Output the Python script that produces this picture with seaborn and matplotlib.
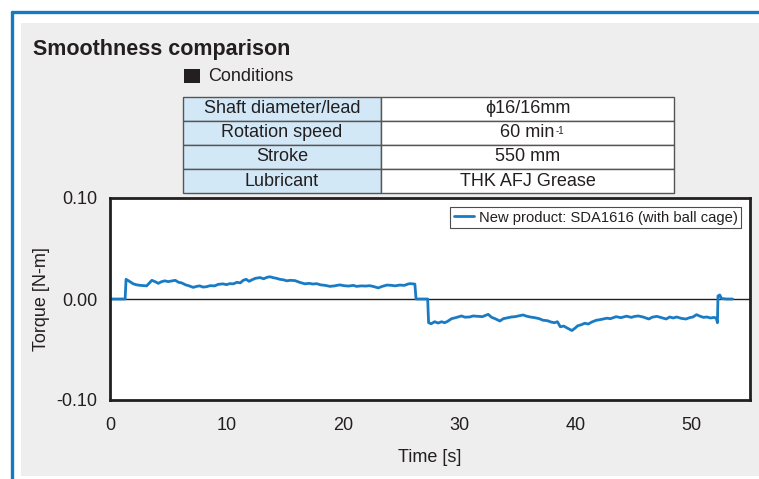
import numpy as np
import pandas as pd
import matplotlib
matplotlib.use("Agg")
import matplotlib.pyplot as plt
from matplotlib.patches import Rectangle
from matplotlib.lines import Line2D
import seaborn as sns

# torque trace
time_s = [
    0.0, 1.30, 1.38, 1.6, 1.8, 2.0, 2.3, 2.6, 2.9, 3.15, 3.4, 3.6, 3.9, 4.15, 4.4,
    4.7, 5.0, 5.3, 5.6, 5.9, 6.15, 6.5, 6.8, 7.15, 7.45, 7.7, 8.0, 8.3, 8.6, 9.0,
    9.3, 9.7, 10.0, 10.3, 10.6, 10.9, 11.2, 11.45, 11.7, 11.95, 12.2, 12.5, 12.9,
    13.2, 13.5, 13.75, 14.0, 14.3, 14.6, 14.9, 15.2, 15.5, 15.9, 16.3, 16.75,
    17.1, 17.45, 17.75, 18.1, 18.5, 18.9, 19.3, 19.75, 20.1, 20.5, 20.9, 21.2,
    21.6, 22.0, 22.3, 22.6, 23.05, 23.4, 23.8, 24.2, 24.5, 24.9, 25.3, 25.6,
    25.8, 26.2, 26.3, 27.3, 27.38, 27.6, 27.9, 28.2, 28.5, 28.75, 29.0, 29.35,
    29.7, 30.0, 30.2, 30.5, 30.9, 31.2, 31.6, 32.0, 32.5, 32.8, 33.1, 33.5, 33.8,
    34.2, 34.5, 34.8, 35.2, 35.5, 35.8, 36.1, 36.5, 36.9, 37.2, 37.6, 37.9, 38.2,
    38.45, 38.7, 39.0, 39.25, 39.5, 39.7, 39.95, 40.2, 40.5, 40.8, 41.1, 41.4,
    41.8, 42.1, 42.4, 42.7, 43.0, 43.5, 43.9, 44.4, 44.8, 45.1, 45.4, 45.8, 46.3,
    46.6, 47.0, 47.4, 47.8, 48.1, 48.4, 48.7, 49.1, 49.5, 49.8, 50.1, 50.4, 50.7,
    51.0, 51.3, 51.6, 51.9, 52.1, 52.2, 52.25, 52.4, 52.55, 53.0, 53.5,
]
torque = [
    0.0, 0.0, 0.0195, 0.018, 0.0165, 0.015, 0.014, 0.0135, 0.0132, 0.013, 0.016,
    0.0185, 0.017, 0.0155, 0.017, 0.018, 0.0172, 0.0178, 0.0185, 0.0165, 0.016,
    0.014, 0.013, 0.0115, 0.0125, 0.013, 0.0118, 0.0122, 0.0132, 0.013, 0.0145,
    0.015, 0.0142, 0.0152, 0.015, 0.0165, 0.016, 0.0185, 0.0195, 0.0175, 0.019,
    0.0205, 0.0212, 0.020, 0.0215, 0.022, 0.0212, 0.0205, 0.0195, 0.019, 0.018,
    0.0185, 0.0182, 0.0165, 0.015, 0.0155, 0.0148, 0.0152, 0.014, 0.0135, 0.0125,
    0.013, 0.014, 0.0132, 0.0128, 0.0135, 0.0125, 0.013, 0.0128, 0.0132, 0.0125,
    0.011, 0.0125, 0.0138, 0.0135, 0.013, 0.0138, 0.0135, 0.0148, 0.0152, 0.0148,
    0.0, 0.0, -0.0235, -0.0245, -0.0225, -0.0238, -0.0225, -0.0235, -0.0222,
    -0.0195, -0.0185, -0.0175, -0.0168, -0.018, -0.0178, -0.0168, -0.0172,
    -0.0175, -0.0152, -0.0182, -0.0195, -0.0218, -0.0195, -0.0185, -0.0178,
    -0.0175, -0.0165, -0.0158, -0.017, -0.0178, -0.0185, -0.0195, -0.021,
    -0.0215, -0.0228, -0.0235, -0.0225, -0.0275, -0.0268, -0.0285, -0.030,
    -0.0312, -0.029, -0.0265, -0.0255, -0.024, -0.0248, -0.0228, -0.021,
    -0.0205, -0.0198, -0.019, -0.0195, -0.0175, -0.0185, -0.017, -0.0182,
    -0.0172, -0.0168, -0.0178, -0.0198, -0.018, -0.0172, -0.0185, -0.0198,
    -0.0178, -0.0188, -0.0178, -0.0192, -0.0198, -0.0185, -0.0178, -0.0155,
    -0.017, -0.0182, -0.0178, -0.0188, -0.0182, -0.019, -0.0235, 0.003, 0.004,
    0.0005, 0.0, 0.0,
]
series_name = "New product: SDA1616 (with ball cage)"

x_ticks = [0, 10, 20, 30, 40, 50]
y_ticks = [-0.10, 0.00, 0.10]
y_tick_labels = ["-0.10", "0.00", "0.10"]

cond_names = ["Shaft diameter/lead", "Rotation speed", "Stroke", "Lubricant"]
cond_values = ["\u03d516/16mm", "60 min", "550 mm", "THK AFJ Grease"]
speed_unit_sup = "-1"

ink = "#231f20"
line_blue = "#1a7bc5"

sns.set_theme(style="white")
plt.rcParams["font.family"] = ["Liberation Sans", "DejaVu Sans"]
plt.rcParams["text.color"] = ink
plt.rcParams["axes.labelcolor"] = ink
plt.rcParams["xtick.color"] = ink
plt.rcParams["ytick.color"] = ink

W, H = 759, 479
fig = plt.figure(figsize=(W / 100, H / 100), dpi=100, facecolor="white")

# grey panel and blue frame
fig.patches.append(Rectangle((21 / W, 1 - 476 / H), 1 - 21 / W, (476 - 23) / H,
                             transform=fig.transFigure, facecolor="#eeeeee",
                             edgecolor="none", zorder=-5))
fig.lines.append(Line2D([12 / W, 1], [1 - 11.5 / H] * 2, transform=fig.transFigure,
                        color="#1679c2", lw=2.4))
fig.lines.append(Line2D([12 / W] * 2, [0, 1 - 11.5 / H], transform=fig.transFigure,
                        color="#1679c2", lw=2.4))

fig.text(33 / W, 1 - 49 / H, "Smoothness comparison", fontsize=15.5,
         fontweight="bold", va="center", ha="left")
fig.patches.append(Rectangle((184 / W, 1 - 83 / H), 16 / W, 14 / H,
                             transform=fig.transFigure, facecolor=ink,
                             edgecolor="none"))
fig.text(208 / W, 1 - 76 / H, "Conditions", fontsize=13, va="center", ha="left")

# conditions table
tax = fig.add_axes([183 / W, 1 - 193 / H, (674 - 183) / W, (193 - 97) / H])
tax.axis("off")
cells = [[n, v] for n, v in zip(cond_names, cond_values)]
colours = [["#d3e8f7", "white"] for _ in cond_names]
tbl = tax.table(cellText=cells, cellColours=colours, cellLoc="center",
                colWidths=[198, 293], bbox=[0, 0, 1, 1])
tbl.auto_set_font_size(False)
for cell in tbl.get_celld().values():
    cell.set_edgecolor("#555555")
    cell.set_linewidth(1.0)
    cell.get_text().set_fontsize(13)
    cell.get_text().set_color(ink)

# main chart
ax = fig.add_axes([110 / W, 1 - 400 / H, (750 - 110) / W, (400 - 198) / H])
ax.set_facecolor("white")
df = pd.DataFrame({"Time [s]": time_s, "Torque [N-m]": torque, "series": series_name})
ax.axhline(0, color=ink, lw=1.0, zorder=1)
sns.lineplot(data=df, x="Time [s]", y="Torque [N-m]", hue="series",
             palette=[line_blue], estimator=None, lw=2.0, ax=ax, zorder=2)

ax.set_xlim(0, 55)
ax.set_ylim(-0.10, 0.10)
ax.set_xticks(x_ticks)
ax.set_yticks(y_ticks)
ax.set_yticklabels(y_tick_labels)
ax.tick_params(axis="both", direction="in", length=4, width=1, labelsize=13)
ax.tick_params(axis="x", pad=12)
ax.tick_params(axis="y", pad=9)
ax.set_xlabel("Time [s]", fontsize=13, labelpad=11)
ax.set_ylabel("Torque [N-m]", fontsize=13, labelpad=4.5)
for sp in ax.spines.values():
    sp.set_color(ink)
    sp.set_linewidth(2.0)

leg = ax.legend(loc="upper right", fontsize=10.6, frameon=True, fancybox=False,
                handlelength=1.4, handletextpad=0.3, borderpad=0.25,
                borderaxespad=0.6, title=None)
leg.get_frame().set_edgecolor(ink)
leg.get_frame().set_linewidth(0.8)
for h in leg.get_lines():
    h.set_linewidth(2.0)

# small superscript after "60 min"
fig.canvas.draw()
speed_txt = tbl[1, 1].get_text()
bb = speed_txt.get_window_extent(renderer=fig.canvas.get_renderer())
fig.text((bb.x1 + 1) / W, (bb.y1 - 1) / H, speed_unit_sup, fontsize=7,
         ha="left", va="top")

fig.savefig("out.png", dpi=100)
